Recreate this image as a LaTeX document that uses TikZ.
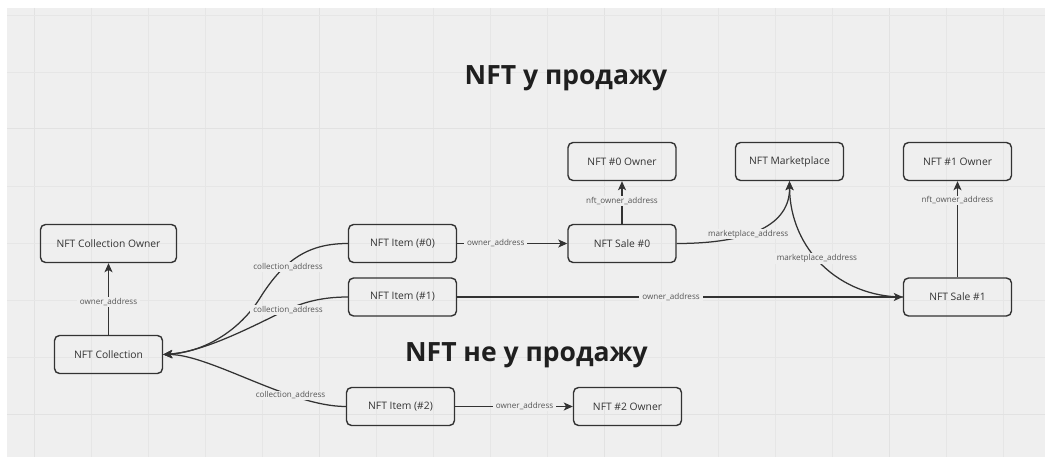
\documentclass[tikz,border=0pt]{standalone}
\usepackage{fontspec}
\setmainfont{Open Sans}
\usetikzlibrary{arrows.meta}
\definecolor{bgc}{HTML}{EFEFEF}
\definecolor{gridc}{HTML}{E6E6E6}
\definecolor{gridm}{HTML}{E2E2E2}
\definecolor{ink}{HTML}{333333}
\definecolor{lblc}{HTML}{555555}
\begin{document}
\begin{tikzpicture}[x=1pt,y=-1pt,
  box/.style={draw=ink, line width=1.4pt, rounded corners=5pt, minimum width=108pt, minimum height=38pt, inner sep=0pt, font=\fontsize{10.3}{12}\selectfont, text=ink},
  conn/.style={draw=ink, line width=1.25pt, -{Stealth[length=9pt,width=8pt,inset=2.2pt]}},
  lbl/.style={fill=bgc, inner xsep=3pt, inner ysep=1pt, font=\fontsize{8.1}{9}\selectfont, text=lblc},
  ttl/.style={font=\fontsize{26.5}{30}\selectfont\bfseries, text=black!88, inner sep=0pt}]
\useasboundingbox (0,0) rectangle (1045,457);
% background and grid
\fill[white] (0,0) rectangle (1045,457);
\fill[bgc] (7,8) rectangle (1045,457);
\foreach \i in {0,...,17}{
  \pgfmathtruncatemacro{\m}{mod(\i,5)}
  \ifnum\m=0
    \draw[gridm, line width=1pt] ({34+57*\i},8) -- ({34+57*\i},457);
  \else
    \draw[gridc, line width=0.7pt] ({34+57*\i},8) -- ({34+57*\i},457);
  \fi
}
\foreach \j in {0,...,7}{
  \pgfmathtruncatemacro{\m}{mod(\j,5)}
  \ifnum\m=2
    \draw[gridm, line width=1pt] (7,{15+57*\j}) -- (1045,{15+57*\j});
  \else
    \draw[gridc, line width=0.7pt] (7,{15+57*\j}) -- (1045,{15+57*\j});
  \fi
}
% titles
\node[ttl, anchor=base] (t1) at (566,85) {NFT у продажу};
\node[ttl, anchor=base] (t2) at (526.5,361) {NFT не у продажу};
% nodes
\node[box, minimum width=136pt] (cown) at (108.5,243.5) {NFT Collection Owner};
\node[box] (coll) at (108.5,354.5) {NFT Collection};
\node[box] (it0) at (402.5,243.5) {NFT Item (\#0)};
\node[box] (it1) at (402.5,297) {NFT Item (\#1)};
\node[box] (it2) at (400.5,406.5) {NFT Item (\#2)};
\node[box] (o2) at (627.5,406.5) {NFT \#2 Owner};
\node[box] (s0) at (622,243.5) {NFT Sale \#0};
\node[box] (o0) at (622,161.5) {NFT \#0 Owner};
\node[box] (mk) at (789.5,161.5) {NFT Marketplace};
\node[box] (o1) at (957.5,161.5) {NFT \#1 Owner};
\node[box] (s1) at (957.5,297) {NFT Sale \#1};
% connectors
\draw[conn] (coll.north) -- node[lbl, pos=0.46] (l0) {owner\_address} (cown.south);
\coordinate (m1) at (260,298);
\coordinate (m2) at (280,313);
\draw[conn] (it0.west) .. controls (310,243.5) and (285,258) .. (m1) .. controls (240,330) and (205,352) .. (coll.east);
\draw[conn] (it1.west) .. controls (320,297) and (300,303) .. (m2) .. controls (240,333) and (200,352) .. (coll.east);
\draw[conn] (it2.west) .. controls (290,406.5) and (210,354.5) .. node[lbl, pos=0.3] (l3) {collection\_address} (coll.east);
\node[lbl] (l1) at (288,267) {collection\_address};
\node[lbl] (l2) at (288,310) {collection\_address};
\draw[conn] (it0.east) -- node[lbl, pos=0.35] (l4) {owner\_address} (s0.west);
\draw[conn] (it1.east) -- node[lbl, pos=0.48] (l5) {owner\_address} (s1.west);
\draw[conn] (it2.east) -- node[lbl, pos=0.59] (l6) {owner\_address} (o2.west);
\draw[conn] (s0.north) -- node[lbl, pos=0.54] (l7) {nft\_owner\_address} (o0.south);
\draw[conn] (s1.north) -- node[lbl, pos=0.80] (l8) {nft\_owner\_address} (o1.south);
\draw[conn] (s0.east) .. controls (750,243.5) and (790,225) .. node[lbl, pos=0.4] (l9) {marketplace\_address} (mk.south);
\draw[conn] (s1.west) .. controls (840,297) and (790,250) .. node[lbl, pos=0.55] (l10) {marketplace\_address} (mk.south);
\end{tikzpicture}
\end{document}
